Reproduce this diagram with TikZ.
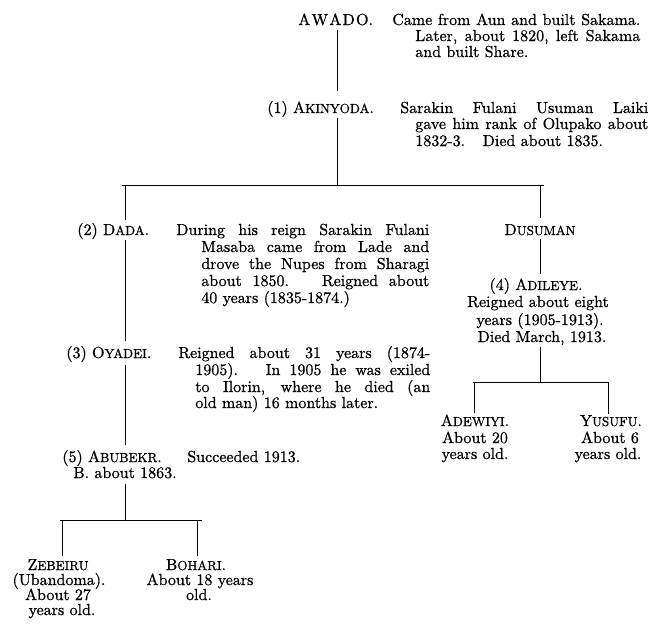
\documentclass[tikz,border=0pt]{standalone}
\usepackage{fontspec}
\newfontfamily\oldfont{lmroman10-regular.otf}[FakeBold=0.8]
\newcommand\tfont{\oldfont\fontsize{10}{12}\selectfont}
\newcommand\smc[1]{{\fontsize{8.2}{10}\selectfont #1}}
\newcommand\jline[2]{\makebox[\dimexpr#1pt*5/8\relax][s]{#2}}
\begin{document}
\begin{tikzpicture}[x=1pt,y=-1pt,
  txt/.style={anchor=base west,inner sep=0pt,font=\tfont,scale=1.6,transform shape},
  ctr/.style={anchor=base,inner sep=0pt,font=\tfont,scale=1.6,transform shape},
  link/.style={line width=1pt}]
\useasboundingbox (0,0) rectangle (651,625);
% junction coordinates
\coordinate (j1) at (337,185);
\coordinate (b1l) at (122,185);
\coordinate (b1r) at (544,185);
\coordinate (jd) at (125,185);
\coordinate (ju) at (540,185);
\coordinate (j2) at (540,382);
\coordinate (b2l) at (473,382);
\coordinate (b2r) at (608,382);
\coordinate (ja) at (474,382);
\coordinate (jy) at (608,382);
\coordinate (j3) at (125,520);
\coordinate (b3l) at (60,520);
\coordinate (b3r) at (202,520);
\coordinate (jz) at (62,520);
\coordinate (jb) at (197,520);
% Awado
\node[txt] (awado) at (298,25) {A\kern0.8pt W\kern0.8pt A\kern0.8pt D\kern0.8pt O.};
\node[txt] (awd1) at (392,25) {\jline{248}{Came from Aun and built Sakama.}};
\node[txt] (awd2) at (415,41) {\jline{225}{Later, about 1820, left Sakama}};
\node[txt] (awd3) at (415,57) {and built Share.};
% Akinyoda
\node[txt] (akin) at (267,113) {(1) A\smc{KINYODA}.};
\node[txt] (akd1) at (400,113) {\jline{248}{Sarakin Fulani Usuman Laiki}};
\node[txt] (akd2) at (415,129) {\jline{233}{gave him rank of Olupako about}};
\node[txt] (akd3) at (415,146) {1832-3.\hspace{1.1em}Died about 1835.};
% Dada
\node[txt] (dada) at (77,235) {(2) D\smc{ADA}.};
\node[txt] (dad1) at (176,235) {\jline{253}{During his reign Sarakin Fulani}};
\node[txt] (dad2) at (201,252) {\jline{228}{Masaba came from Lade and}};
\node[txt] (dad3) at (201,269) {\jline{228}{drove the Nupes from Sharagi}};
\node[txt] (dad4) at (201,286) {\jline{228}{about 1850.\hspace{0.6em} Reigned about}};
\node[txt] (dad5) at (201,303) {40 years (1835-1874.)};
% Dusuman
\node[ctr] (dus) at (540,235) {D\smc{USUMAN}};
\node[ctr] (adi) at (536,290) {(4) A\smc{DILEYE}.};
\node[ctr] (adi2) at (538,307) {Reigned about eight};
\node[ctr] (adi3) at (540,325) {years (1905-1913).};
\node[ctr] (adi4) at (542,342) {Died March, 1913.};
% Oyadei
\node[txt] (oya) at (66,358) {(3) O\smc{YADEI}.};
\node[txt] (oyd1) at (178,358) {\jline{252}{Reigned about 31 years (1874-}};
\node[txt] (oyd2) at (195,375) {\jline{235}{1905).\hspace{0.6em} In 1905 he was exiled}};
\node[txt] (oyd3) at (195,392) {\jline{235}{to Ilorin, where he died (an}};
\node[txt] (oyd4) at (195,408) {old man) 16 months later.};
% Adewiyi, Yusufu
\node[ctr] (adw) at (475,426) {A\smc{DEWIYI}.};
\node[ctr] (adw2) at (475,443) {About 20};
\node[ctr] (adw3) at (475,459) {years old.};
\node[ctr] (yus) at (611,426) {Y\smc{USUFU}.};
\node[ctr] (yus2) at (610,443) {About 6};
\node[ctr] (yus3) at (608,459) {years old.};
% Abubekr
\node[txt] (abu) at (62,462) {(5) A\smc{BUBEKR}.};
\node[txt] (abud) at (187,462) {Succeeded 1913.};
\node[txt] (abu2) at (73,478) {B. about 1863.};
% Zebeiru, Bohari
\node[ctr] (zeb) at (58,570) {Z\smc{EBEIRU}};
\node[ctr] (zeb2) at (59,585) {(Ubandoma).};
\node[ctr] (zeb3) at (58,600) {About 27};
\node[ctr] (zeb4) at (62,615) {years old.};
\node[ctr] (boh) at (196,570) {B\smc{OHARI}.};
\node[ctr] (boh2) at (200,585) {About 18 years};
\node[ctr] (boh3) at (199,600) {old.};
% connectors
\draw[link, shorten <=4.8pt, shorten >=10pt] (awado.south -| j1) -- (akin.north -| j1);
\draw[link, shorten <=1pt] (akin.south -| j1) -- (j1);
\draw[link] (b1l) -- (b1r);
\draw[link, shorten >=3pt] (jd) -- (dada.north -| jd);
\draw[link, shorten >=6pt] (ju) -- (dus.north -| ju);
\draw[link, shorten <=1pt, shorten >=5pt] (dada.south -| jd) -- (oya.north -| jd);
\draw[link, shorten <=3pt, shorten >=4pt] (dus.south -| ju) -- (adi.north -| ju);
\draw[link, shorten <=2pt] (adi4.south -| j2) -- (j2);
\draw[link] (b2l) -- (b2r);
\draw[link, shorten >=1pt] (ja) -- (adw.north -| ja);
\draw[link, shorten >=1pt] (jy) -- (yus.north -| jy);
\draw[link, shorten <=3pt, shorten >=5pt] (oya.south -| jd) -- (abu.north -| jd);
\draw[link, shorten <=5pt] (abu2.south -| j3) -- (j3);
\draw[link] (b3l) -- (b3r);
\draw[link, shorten >=3pt] (jz) -- (zeb.north -| jz);
\draw[link, shorten >=3pt] (jb) -- (boh.north -| jb);
\end{tikzpicture}
\end{document}
